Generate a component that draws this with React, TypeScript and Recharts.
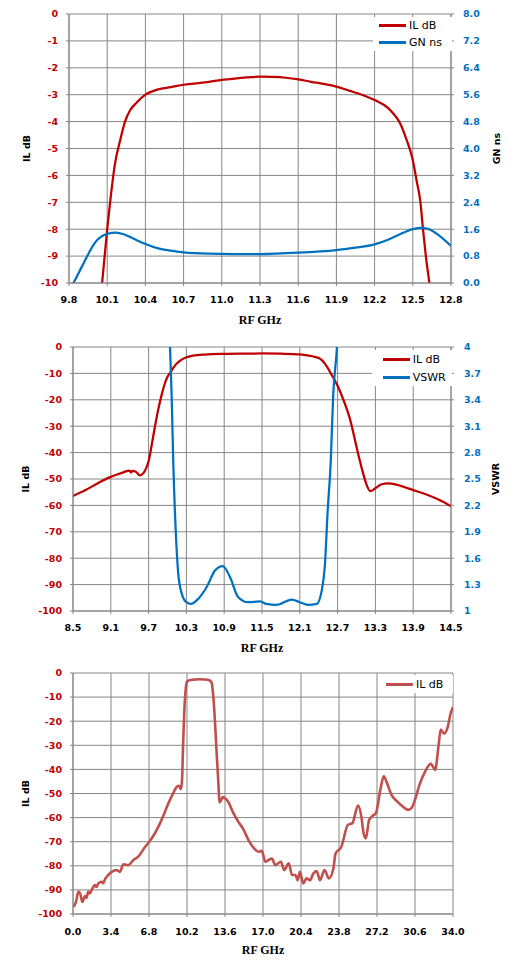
import React from "react";
import { LineChart, Line, XAxis, YAxis, CartesianGrid, Legend, Label } from "recharts";

// ---- chart 1: IL dB / GN ns, 9.8 - 12.8 GHz ----
const x1Ticks = [9.8, 10.1, 10.4, 10.7, 11.0, 11.3, 11.6, 11.9, 12.2, 12.5, 12.8];
const il1Ticks = [0, -1, -2, -3, -4, -5, -6, -7, -8, -9, -10];
const gn1Ticks = [0, 0.8, 1.6, 2.4, 3.2, 4.0, 4.8, 5.6, 6.4, 7.2, 8.0];

const il1Freq = [10.03, 10.06, 10.1, 10.13, 10.16, 10.2, 10.24, 10.28, 10.33, 10.4, 10.5, 10.6, 10.7, 10.8, 10.9, 11.0, 11.1, 11.2, 11.3, 11.4, 11.5, 11.6, 11.7, 11.8, 11.9, 12.0, 12.1, 12.2, 12.3, 12.35, 12.4, 12.45, 12.5, 12.53, 12.56, 12.58, 12.6, 12.63, 12.66];
const il1Db = [-11.3, -10, -8, -6.7, -5.6, -4.73, -4.0, -3.58, -3.3, -3.0, -2.8, -2.72, -2.63, -2.58, -2.52, -2.45, -2.4, -2.36, -2.33, -2.34, -2.37, -2.43, -2.52, -2.6, -2.7, -2.85, -3.0, -3.2, -3.47, -3.72, -4.06, -4.66, -5.43, -6.2, -7.0, -8.0, -8.9, -10, -11.1];

const gn1Freq = [9.8, 9.834, 9.9, 9.95, 10.0, 10.05, 10.1, 10.17, 10.23, 10.3, 10.4, 10.5, 10.6, 10.7, 10.9, 11.1, 11.3, 11.6, 11.9, 12.05, 12.2, 12.3, 12.4, 12.5, 12.56, 12.62, 12.7, 12.8];
const gn1Ns = [-0.2, 0, 0.48, 0.85, 1.18, 1.37, 1.46, 1.5, 1.45, 1.33, 1.16, 1.03, 0.96, 0.91, 0.87, 0.86, 0.86, 0.9, 0.98, 1.05, 1.15, 1.28, 1.45, 1.6, 1.64, 1.61, 1.43, 1.1];

// ---- chart 2: IL dB / VSWR, 8.5 - 14.5 GHz ----
const x2Ticks = [8.5, 9.1, 9.7, 10.3, 10.9, 11.5, 12.1, 12.7, 13.3, 13.9, 14.5];
const ilTicks = [0, -10, -20, -30, -40, -50, -60, -70, -80, -90, -100];
const vswrTicks = [1, 1.3, 1.6, 1.9, 2.2, 2.5, 2.8, 3.1, 3.4, 3.7, 4];

const il2Freq = [8.5, 8.7, 8.9, 9.1, 9.2, 9.3, 9.35, 9.4, 9.42, 9.44, 9.5, 9.56, 9.6, 9.65, 9.7, 9.75, 9.8, 9.85, 9.9, 9.95, 10.0, 10.05, 10.1, 10.2, 10.3, 10.4, 10.6, 10.9, 11.2, 11.5, 11.8, 12.1, 12.2, 12.3, 12.4, 12.45, 12.5, 12.55, 12.6, 12.7, 12.8, 12.9, 13.0, 13.1, 13.15, 13.22, 13.3, 13.4, 13.5, 13.6, 13.7, 13.9, 14.1, 14.3, 14.5];
const il2Db = [-56.4, -54.2, -51.5, -49.2, -48.3, -47.5, -47.0, -46.8, -47.6, -46.9, -47.3, -48.6, -48.2, -46.5, -43.3, -37, -30.2, -24, -18.8, -14.4, -11.3, -9.5, -7.6, -5.2, -3.9, -3.3, -2.85, -2.6, -2.5, -2.45, -2.55, -2.8, -3.1, -3.5, -4.2, -5, -6.4, -8.2, -10.3, -14.7, -20.5, -27.6, -37.8, -47.4, -51.5, -54.6, -53.5, -52, -51.7, -51.9, -52.6, -54.2, -55.8, -57.8, -60.3];

const vswrFreq = [10.0, 10.04, 10.066, 10.092, 10.13, 10.17, 10.225, 10.3, 10.373, 10.49, 10.62, 10.754, 10.876, 10.99, 11.12, 11.28, 11.47, 11.57, 11.73, 11.97, 12.1, 12.23, 12.37, 12.45, 12.5, 12.54, 12.59, 12.63, 12.69, 12.73];
const vswr = [4.9, 4.0, 3.44, 2.68, 1.92, 1.43, 1.2, 1.1, 1.08, 1.14, 1.27, 1.46, 1.51, 1.39, 1.16, 1.1, 1.11, 1.08, 1.07, 1.13, 1.1, 1.07, 1.08, 1.24, 1.54, 2.11, 2.68, 3.45, 4.0, 4.6];

// ---- chart 3: IL dB wideband, 0 - 34 GHz ----
const x3Ticks = [0, 3.4, 6.8, 10.2, 13.6, 17.0, 20.4, 23.8, 27.2, 30.6, 34.0];

const il3Freq = [0.05, 0.27, 0.48, 0.63, 0.84, 1.07, 1.2, 1.37, 1.5, 1.67, 1.97, 2.1, 2.27, 2.56, 2.7, 2.86, 3.16, 3.46, 3.9, 4.2, 4.5, 4.95, 5.4, 5.84, 6.35, 6.83, 7.33, 7.78, 8.1, 8.5, 8.9, 9.3, 9.5, 9.65, 9.75, 9.85, 10.0, 10.1, 10.2, 10.4, 10.8, 11.3, 11.8, 12.2, 12.4, 12.55, 12.7, 12.85, 13.0, 13.12, 13.25, 13.4, 13.6, 13.9, 14.3, 14.8, 15.2, 15.7, 16.1, 16.6, 16.9, 17.2, 17.5, 17.8, 18.1, 18.6, 18.9, 19.3, 19.6, 19.9, 20.1, 20.3, 20.6, 20.9, 21.2, 21.5, 21.8, 22.1, 22.5, 22.9, 23.3, 23.5, 24.0, 24.6, 25.0, 25.5, 25.8, 26.0, 26.2, 26.5, 26.8, 27.1, 27.5, 27.8, 28.1, 28.5, 29.0, 29.5, 30.0, 30.3, 30.6, 31.0, 31.5, 32.0, 32.2, 32.4, 32.7, 32.9, 33.2, 33.5, 33.8, 34.0];
const il3Db = [-97, -95, -90.7, -91.4, -95, -92.5, -93.3, -90.7, -91.5, -90, -88, -88.8, -87.3, -86.6, -87.2, -85.6, -83.8, -82.5, -81.8, -82.5, -79.4, -79.7, -77.6, -76.2, -72.8, -70, -66.5, -62.4, -59, -54.5, -50.5, -47.2, -46.8, -48.2, -45, -30, -12, -6, -3.6, -3.0, -2.75, -2.6, -2.7, -3.0, -4.0, -9.5, -20, -33, -45, -53.7, -52.8, -51.5, -52, -53.5, -57.6, -61.8, -64.5, -69.3, -72.2, -74.2, -73.8, -78.3, -77.6, -77, -79.7, -78.3, -81.8, -79, -83.8, -83.8, -86, -82.5, -87.3, -85.2, -86, -83.2, -82.2, -86, -81.8, -85.2, -81, -74.8, -72.2, -63, -62.3, -55, -59.6, -66.5, -68.6, -60.9, -59.3, -58.2, -48.5, -42.9, -45.7, -50.6, -53.3, -55.4, -56.8, -56, -52.6, -46.4, -40.9, -37.7, -38.8, -40.2, -30.5, -23.5, -25.2, -22.9, -16.6, -14.1];

const zip = (xs: number[], ys: number[]) => xs.map((f, i) => ({ f, v: ys[i] }));

const SANS = "'DejaVu Sans', Verdana, sans-serif";
const SERIF = "'Liberation Serif', 'Times New Roman', serif";
const RED = "#C00000";
const BLUE = "#0070C0";
const RED3 = "#C0504D";
const GRID = "#868686";

const tickFont = { fontFamily: SANS, fontSize: 9.5, fontWeight: "bold" as const };
const fix1 = (v: number) => v.toFixed(1);

const yTitle = (text: string, dx: number) => (props: any) => {
  const vb = props.viewBox;
  const cx = vb.x + dx;
  const cy = vb.y + vb.height / 2;
  return (
    <text x={cx} y={cy} transform={`rotate(-90 ${cx} ${cy})`} textAnchor="middle" dominantBaseline="central"
      fontFamily={SANS} fontSize={9.5} fontWeight="bold" fill="#000">
      {text}
    </text>
  );
};

const xTitle = (dy: number) => (props: any) => {
  const vb = props.viewBox;
  return (
    <text x={vb.x + vb.width / 2} y={vb.y + dy} textAnchor="middle" dominantBaseline="central"
      fontFamily={SERIF} fontSize={12} fontWeight="bold" fill="#000">
      RF GHz
    </text>
  );
};

// legend keeps the series order (recharts sorts by name otherwise)
const LegendBox = ({ payload, padLeft, rowH, order }: any) => {
  const items = [...(payload || [])].sort(
    (a: any, b: any) => order.indexOf(a.value) - order.indexOf(b.value)
  );
  return (
    <div style={{ background: "#fff", paddingLeft: padLeft, fontFamily: SANS, fontSize: 11, fontWeight: 400, color: "#000" }}>
      {items.map((p: any) => (
        <div key={p.value} style={{ display: "flex", alignItems: "center", height: rowH }}>
          <span style={{ display: "inline-block", width: 27, height: 3, background: p.color, marginRight: 3 }} />
          <span>{p.value}</span>
        </div>
      ))}
    </div>
  );
};

const legendProps = (order: string[], top: number, left: number, width: number, padLeft: number, rowH: number) => ({
  layout: "horizontal" as const,
  verticalAlign: "middle" as const,
  align: "center" as const,
  width,
  wrapperStyle: { top, left, width },
  content: (props: any) => <LegendBox {...props} padLeft={padLeft} rowH={rowH} order={order} />,
});

export default function App() {
  return (
    <div style={{ position: "absolute", left: 0, top: 0, width: 520, height: 976, background: "#fff" }}>
      {/* chart 1 */}
      <div style={{ position: "absolute", left: 0, top: 0 }}>
        <LineChart width={520} height={340} margin={{ top: 14, right: 9, bottom: 27, left: 9 }}>
          <CartesianGrid stroke={GRID} yAxisId="l" />
          <XAxis dataKey="f" type="number" domain={[9.8, 12.8]} ticks={x1Ticks} interval={0} allowDataOverflow
            tickFormatter={fix1} height={30} tickSize={3} tickMargin={10} stroke={GRID}
            tick={{ ...tickFont, fill: "#000" }}>
            <Label content={xTitle(37)} />
          </XAxis>
          <YAxis yAxisId="l" type="number" domain={[-10, 0]} ticks={il1Ticks} interval={0} allowDataOverflow
            width={60} tickSize={3} tickMargin={8} stroke={GRID} tick={{ ...tickFont, fill: RED }}>
            <Label content={yTitle("IL dB", 17.7)} />
          </YAxis>
          <YAxis yAxisId="r" orientation="right" type="number" domain={[0, 8]} ticks={gn1Ticks} interval={0}
            allowDataOverflow tickFormatter={fix1} width={60} tickSize={3} tickMargin={9} stroke={GRID}
            tick={{ ...tickFont, fill: BLUE }}>
            <Label content={yTitle("GN ns", 45.7)} />
          </YAxis>
          <Legend {...legendProps(["IL dB", "GN ns"], 16.5, 373, 79, 6, 17)} />
          <Line yAxisId="l" data={zip(il1Freq, il1Db)} dataKey="v" name="IL dB" type="monotone" stroke={RED}
            strokeWidth={2.25} dot={false} isAnimationActive={false} />
          <Line yAxisId="r" data={zip(gn1Freq, gn1Ns)} dataKey="v" name="GN ns" type="monotone" stroke={BLUE}
            strokeWidth={2.25} dot={false} isAnimationActive={false} />
        </LineChart>
      </div>

      {/* chart 2 */}
      <div style={{ position: "absolute", left: 0, top: 330 }}>
        <LineChart width={520} height={330} margin={{ top: 17, right: 9, bottom: 19, left: 9 }}>
          <CartesianGrid stroke={GRID} yAxisId="l" />
          <XAxis dataKey="f" type="number" domain={[8.5, 14.5]} ticks={x2Ticks} interval={0} allowDataOverflow
            tickFormatter={fix1} height={30} tickSize={3} tickMargin={10} stroke={GRID}
            tick={{ ...tickFont, fill: "#000" }}>
            <Label content={xTitle(37)} />
          </XAxis>
          <YAxis yAxisId="l" type="number" domain={[-100, 0]} ticks={ilTicks} interval={0} allowDataOverflow
            width={64} tickSize={3} tickMargin={8} stroke={GRID} tick={{ ...tickFont, fill: RED }}>
            <Label content={yTitle("IL dB", 16)} />
          </YAxis>
          <YAxis yAxisId="r" orientation="right" type="number" domain={[1, 4]} ticks={vswrTicks} interval={0}
            allowDataOverflow width={60} tickSize={3} tickMargin={10} stroke={GRID}
            tick={{ ...tickFont, fill: BLUE }}>
            <Label content={yTitle("VSWR", 44.8)} />
          </YAxis>
          <Legend {...legendProps(["IL dB", "VSWR"], 20, 372, 80, 10.7, 18)} />
          <Line yAxisId="l" data={zip(il2Freq, il2Db)} dataKey="v" name="IL dB" type="monotone" stroke={RED}
            strokeWidth={2.25} dot={false} isAnimationActive={false} />
          <Line yAxisId="r" data={zip(vswrFreq, vswr)} dataKey="v" name="VSWR" type="monotone" stroke={BLUE}
            strokeWidth={2.25} dot={false} isAnimationActive={false} />
        </LineChart>
      </div>

      {/* chart 3 */}
      <div style={{ position: "absolute", left: 0, top: 660 }}>
        <LineChart width={520} height={316} margin={{ top: 13, right: 67, bottom: 32, left: 9 }}>
          <CartesianGrid stroke={GRID} yAxisId="l" />
          <XAxis dataKey="f" type="number" domain={[0, 34]} ticks={x3Ticks} interval={0} allowDataOverflow
            tickFormatter={fix1} height={30} tickSize={3} tickMargin={11} stroke={GRID}
            tick={{ ...tickFont, fill: "#000" }}>
            <Label content={xTitle(36)} />
          </XAxis>
          <YAxis yAxisId="l" type="number" domain={[-100, 0]} ticks={ilTicks} interval={0} allowDataOverflow
            width={64} tickSize={3} tickMargin={8} stroke={GRID} tick={{ ...tickFont, fill: RED }}>
            <Label content={yTitle("IL dB", 16)} />
          </YAxis>
          <Legend {...legendProps(["IL dB"], 15, 379, 74, 7, 18)} />
          <Line yAxisId="l" data={zip(il3Freq, il3Db)} dataKey="v" name="IL dB" type="monotone" stroke={RED3}
            strokeWidth={2.6} dot={false} isAnimationActive={false} />
        </LineChart>
      </div>
    </div>
  );
}
